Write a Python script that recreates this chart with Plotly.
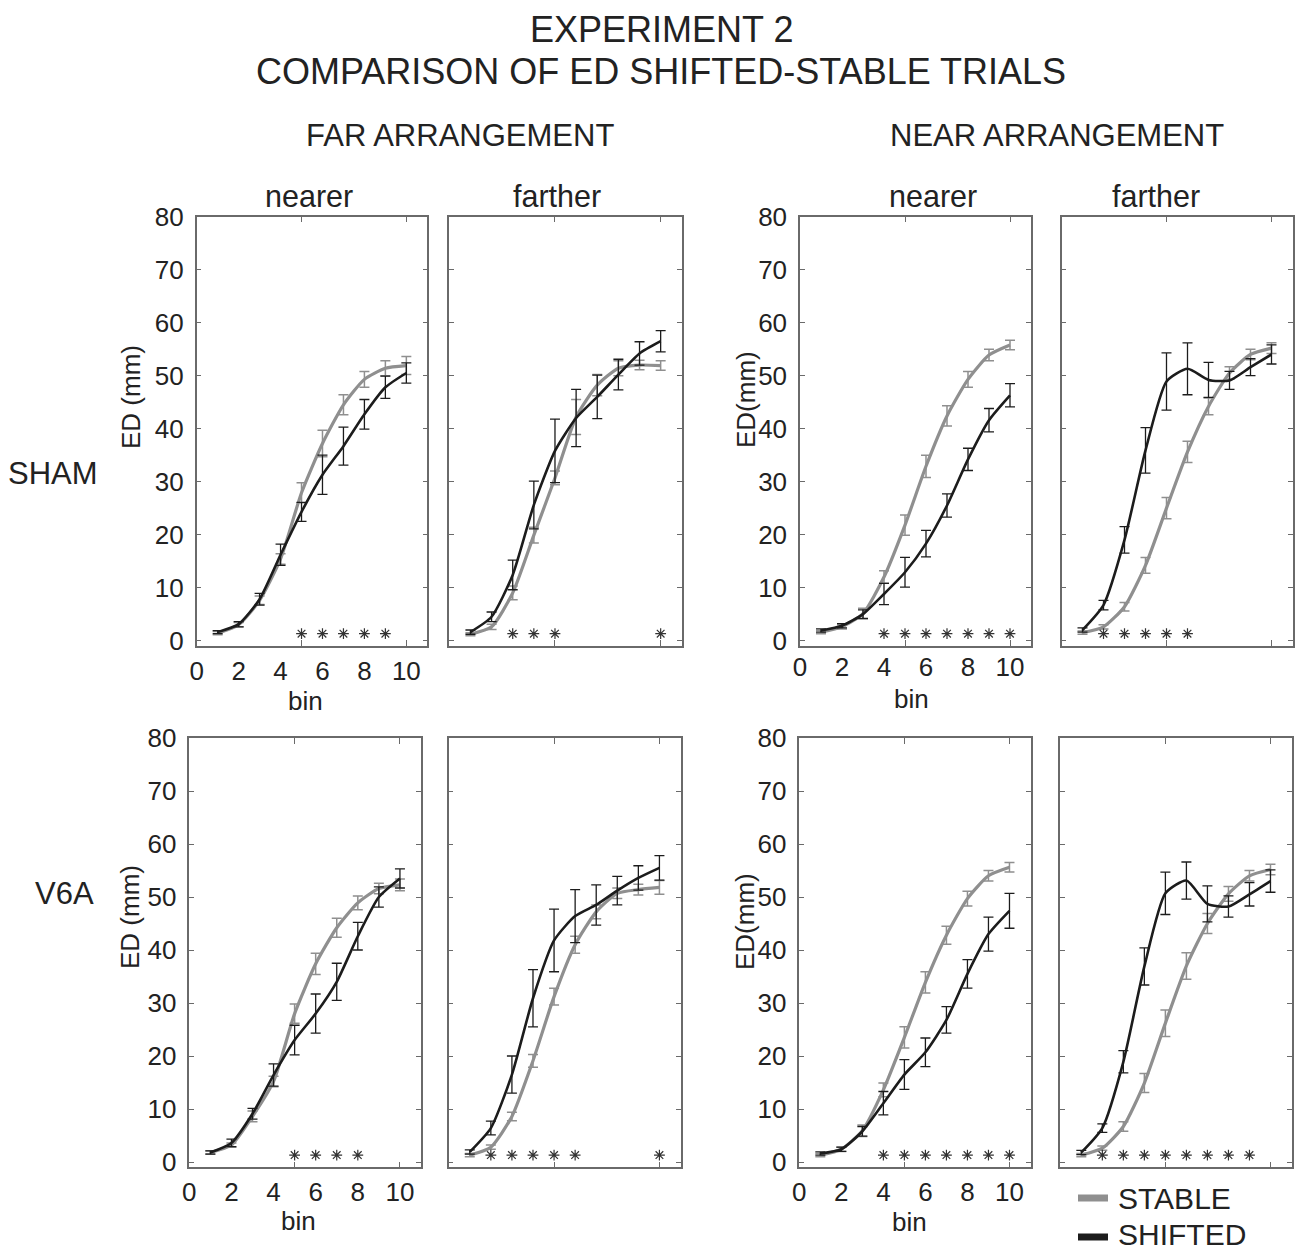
import plotly.graph_objects as go

# bins on the x axis
bins = list(range(1, 11))

# SHAM - far arrangement - nearer
sham_far_nearer_stable = [1.4, 3.0, 7.6, 15.4, 27.9, 37.2, 44.5, 49.3, 51.4, 51.9]
sham_far_nearer_stable_err = [0.3, 0.4, 0.8, 1.0, 1.9, 2.5, 1.9, 1.5, 1.4, 1.7]
sham_far_nearer_shifted = [1.6, 3.1, 7.8, 16.2, 24.3, 31.3, 36.7, 42.7, 47.8, 50.5]
sham_far_nearer_shifted_err = [0.3, 0.5, 1.1, 2.0, 1.8, 3.7, 3.6, 2.8, 2.1, 1.9]
sham_far_nearer_sig = [5, 6, 7, 8, 9]

# SHAM - far arrangement - farther
sham_far_farther_stable = [1.2, 2.6, 9.0, 19.9, 30.7, 42.2, 48.2, 51.4, 52.0, 51.9]
sham_far_farther_stable_err = [0.3, 0.5, 1.3, 1.5, 1.3, 3.3, 2.0, 1.4, 0.9, 0.9]
sham_far_farther_shifted = [1.6, 4.5, 12.4, 25.6, 35.8, 42.0, 46.0, 50.2, 54.2, 56.5]
sham_far_farther_shifted_err = [0.4, 0.9, 2.8, 4.5, 6.0, 5.4, 4.1, 2.9, 2.2, 2.0]
sham_far_farther_sig = [3, 4, 5, 10]

# SHAM - near arrangement - nearer
sham_near_nearer_stable = [1.6, 2.6, 5.1, 12.0, 21.8, 32.9, 42.4, 49.3, 53.9, 55.8]
sham_near_nearer_stable_err = [0.3, 0.4, 1.0, 1.2, 1.9, 2.1, 1.9, 1.5, 1.1, 0.9]
sham_near_nearer_shifted = [1.9, 2.8, 5.0, 8.8, 12.9, 18.3, 25.5, 34.2, 41.6, 46.3]
sham_near_nearer_shifted_err = [0.3, 0.4, 0.8, 2.0, 2.8, 2.5, 2.2, 2.1, 2.2, 2.2]
sham_near_nearer_sig = [4, 5, 6, 7, 8, 9, 10]

# SHAM - near arrangement - farther
sham_near_farther_stable = [1.5, 2.6, 6.4, 14.2, 25.0, 35.6, 44.2, 50.5, 54.0, 55.2]
sham_near_farther_stable_err = [0.3, 0.4, 0.8, 1.5, 2.0, 2.0, 1.6, 1.2, 1.0, 1.0]
sham_near_farther_shifted = [2.0, 6.7, 19.0, 35.9, 48.9, 51.3, 49.2, 49.1, 51.6, 54.0]
sham_near_farther_shifted_err = [0.4, 0.9, 2.5, 4.3, 5.4, 4.9, 3.3, 1.7, 1.6, 1.8]
sham_near_farther_sig = [2, 3, 4, 5, 6]

# V6A - far arrangement - nearer
v6a_far_nearer_stable = [1.8, 3.2, 8.6, 15.2, 28.0, 37.4, 44.2, 48.9, 51.6, 52.3]
v6a_far_nearer_stable_err = [0.3, 0.4, 1.0, 1.0, 1.8, 2.0, 1.8, 1.3, 1.0, 1.1]
v6a_far_nearer_shifted = [1.8, 3.6, 9.1, 16.4, 23.0, 28.0, 34.0, 42.6, 50.0, 53.5]
v6a_far_nearer_shifted_err = [0.3, 0.7, 1.0, 2.1, 2.8, 3.7, 3.5, 2.6, 1.9, 1.8]
v6a_far_nearer_sig = [5, 6, 7, 8]

# V6A - far arrangement - farther
v6a_far_farther_stable = [1.3, 2.8, 8.6, 19.1, 31.2, 41.0, 47.2, 50.7, 51.4, 51.8]
v6a_far_farther_stable_err = [0.3, 0.4, 0.8, 1.2, 1.6, 1.6, 1.3, 1.0, 1.0, 1.3]
v6a_far_farther_shifted = [1.9, 6.4, 16.5, 30.9, 41.8, 46.4, 48.5, 51.2, 53.6, 55.5]
v6a_far_farther_shifted_err = [0.4, 1.3, 3.5, 5.4, 5.9, 5.0, 3.8, 2.7, 2.3, 2.3]
v6a_far_farther_sig = [2, 3, 4, 5, 6, 10]

# V6A - near arrangement - nearer
v6a_near_nearer_stable = [1.3, 2.4, 5.9, 13.6, 23.5, 33.9, 42.8, 49.7, 54.0, 55.6]
v6a_near_nearer_stable_err = [0.3, 0.4, 1.1, 1.3, 2.0, 2.0, 1.7, 1.4, 1.0, 0.9]
v6a_near_nearer_shifted = [1.6, 2.4, 5.8, 11.1, 16.5, 20.7, 26.8, 35.5, 43.0, 47.4]
v6a_near_nearer_shifted_err = [0.3, 0.4, 0.9, 2.2, 2.8, 2.7, 2.5, 2.7, 3.2, 3.3]
v6a_near_nearer_sig = [4, 5, 6, 7, 8, 9, 10]

# V6A - near arrangement - farther
v6a_near_farther_stable = [1.3, 2.6, 6.7, 14.9, 26.2, 37.0, 45.0, 50.6, 54.0, 55.2]
v6a_near_farther_stable_err = [0.3, 0.4, 0.9, 1.8, 2.5, 2.5, 1.9, 1.4, 1.0, 1.0]
v6a_near_farther_shifted = [1.8, 6.4, 18.9, 36.9, 50.7, 53.1, 48.7, 48.2, 50.5, 53.0]
v6a_near_farther_shifted_err = [0.4, 0.8, 2.1, 3.5, 4.0, 3.5, 3.4, 2.0, 2.2, 2.1]
v6a_near_farther_sig = [2, 3, 4, 5, 6, 7, 8, 9]

x_ticks = [0, 2, 4, 6, 8, 10]
y_ticks = [0, 10, 20, 30, 40, 50, 60, 70, 80]

W, H = 1298, 1253
GRAY = "#8f8f8f"
BLACK = "#1c1c1c"
AXC = "#6a6a6a"
TXT = "#222222"
FONT = "Liberation Sans"

def fx(p):
    return p / W

def fy(p):
    return 1 - p / H

# (stable, stable_err, shifted, shifted_err, sig, x pixel span, y pixel span, labelled, label standoff)
top = (216.7, 645.9)
bot = (738.0, 1167.3)
panels = [
    (sham_far_nearer_stable, sham_far_nearer_stable_err, sham_far_nearer_shifted,
     sham_far_nearer_shifted_err, sham_far_nearer_sig, (196.7, 427.3), top, True, 1),
    (sham_far_farther_stable, sham_far_farther_stable_err, sham_far_farther_shifted,
     sham_far_farther_shifted_err, sham_far_farther_sig, (449.3, 681.8), top, False, 1),
    (sham_near_nearer_stable, sham_near_nearer_stable_err, sham_near_nearer_shifted,
     sham_near_nearer_shifted_err, sham_near_nearer_sig, (800.0, 1031.0), top, True, -3),
    (sham_near_farther_stable, sham_near_farther_stable_err, sham_near_farther_shifted,
     sham_near_farther_shifted_err, sham_near_farther_sig, (1061.5, 1292.5), top, False, 1),
    (v6a_far_nearer_stable, v6a_far_nearer_stable_err, v6a_far_nearer_shifted,
     v6a_far_nearer_shifted_err, v6a_far_nearer_sig, (189.3, 421.0), bot, True, 1),
    (v6a_far_farther_stable, v6a_far_farther_stable_err, v6a_far_farther_shifted,
     v6a_far_farther_shifted_err, v6a_far_farther_sig, (448.7, 680.5), bot, False, 1),
    (v6a_near_nearer_stable, v6a_near_nearer_stable_err, v6a_near_nearer_shifted,
     v6a_near_nearer_shifted_err, v6a_near_nearer_sig, (799.3, 1030.5), bot, True, 1),
    (v6a_near_farther_stable, v6a_near_farther_stable_err, v6a_near_farther_shifted,
     v6a_near_farther_shifted_err, v6a_near_farther_sig, (1060.3, 1291.5), bot, False, 1),
]

fig = go.Figure()
layout_axes = {}

for i, (st, st_e, sh, sh_e, sig, xs, ys, lab, stand) in enumerate(panels):
    n = "" if i == 0 else str(i + 1)
    xa, ya = "x" + n, "y" + n
    fig.add_trace(go.Scatter(
        x=bins, y=st, mode="lines", xaxis=xa, yaxis=ya, showlegend=False,
        line=dict(color=GRAY, width=3.2, shape="spline", smoothing=0.6),
        error_y=dict(type="data", array=st_e, color=GRAY, thickness=1.5, width=5),
    ))
    fig.add_trace(go.Scatter(
        x=bins, y=sh, mode="lines", xaxis=xa, yaxis=ya, showlegend=False,
        line=dict(color=BLACK, width=2.6, shape="spline", smoothing=0.6),
        error_y=dict(type="data", array=sh_e, color=BLACK, thickness=1.3, width=5),
    ))
    fig.add_trace(go.Scatter(
        x=sig, y=[1.3] * len(sig), mode="markers", xaxis=xa, yaxis=ya, showlegend=False,
        marker=dict(symbol="asterisk-open", size=9, color="#333333",
                    line=dict(width=1.2, color="#333333")),
    ))
    layout_axes["xaxis" + n] = dict(
        domain=[fx(xs[0]), fx(xs[1])], range=[0, 11], anchor=ya, automargin=False,
        showline=True, linecolor=AXC, linewidth=1.5, mirror="allticks",
        tickvals=x_ticks, ticks="", showticklabels=lab, ticklabelstandoff=stand,
        minor=dict(tickvals=[5, 10], ticks="inside", ticklen=6, tickcolor=AXC, tickwidth=1.3),
        showgrid=False, zeroline=False,
        tickfont=dict(size=26, color=TXT, family=FONT),
    )
    layout_axes["yaxis" + n] = dict(
        domain=[fy(ys[1]), fy(ys[0])], range=[-1, 80], anchor=xa, automargin=False,
        showline=True, linecolor=AXC, linewidth=1.5, mirror="ticks",
        tickvals=y_ticks, ticks="inside", ticklen=5, tickcolor=AXC, tickwidth=1.3,
        showticklabels=lab, ticklabelstandoff=6,
        showgrid=False, zeroline=False,
        tickfont=dict(size=26, color=TXT, family=FONT),
    )


def note(text, x, y, size, angle=0, anchor="center", vanchor="middle"):
    return dict(text=text, x=fx(x), y=fy(y), xref="paper", yref="paper",
                showarrow=False, textangle=angle, xanchor=anchor, yanchor=vanchor,
                font=dict(size=size, color=TXT, family=FONT))


annotations = [
    note("EXPERIMENT 2", 661, 30, 36),
    note("COMPARISON OF ED SHIFTED-STABLE TRIALS", 661, 72, 36),
    note("FAR ARRANGEMENT", 460, 136, 31),
    note("NEAR ARRANGEMENT", 1057, 136, 31),
    note("nearer", 309, 196, 30.5),
    note("farther", 557, 196, 30.5),
    note("nearer", 933, 196, 30.5),
    note("farther", 1156, 196, 30.5),
    note("SHAM", 53, 473, 31),
    note("V6A", 64, 893, 31),
    note("ED (mm)", 131, 397, 26, -90),
    note("ED(mm)", 746, 400, 26, -90),
    note("ED (mm)", 130, 917, 26, -90),
    note("ED(mm)", 745, 922, 26, -90),
    note("bin", 305, 701, 26),
    note("bin", 911, 699, 26),
    note("bin", 298, 1221, 26),
    note("bin", 909, 1222, 26),
    # legend
    note("STABLE", 1116, 1198, 30, anchor="left"),
    note("SHIFTED", 1116, 1253, 30, anchor="left", vanchor="bottom"),
]

shapes = [
    dict(type="line", xref="paper", yref="paper", x0=fx(1078), x1=fx(1108),
         y0=fy(1198), y1=fy(1198), line=dict(color=GRAY, width=7)),
    dict(type="line", xref="paper", yref="paper", x0=fx(1078), x1=fx(1108),
         y0=fy(1237), y1=fy(1237), line=dict(color=BLACK, width=7)),
]

fig.update_layout(
    width=W, height=H,
    margin=dict(l=0, r=0, t=0, b=0, pad=0),
    paper_bgcolor="white", plot_bgcolor="white",
    font=dict(family=FONT, color=TXT),
    annotations=annotations,
    shapes=shapes,
    showlegend=False,
    **layout_axes,
)

# drop the browser's default page margin so the figure sits at the top-left corner
fig.write_html("out.html", config={"displayModeBar": False},
               post_script="document.body.style.margin='0';")
